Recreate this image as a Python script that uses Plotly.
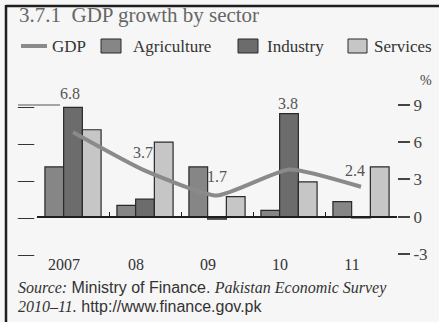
import plotly.graph_objects as go

# ---- data -------------------------------------------------------------
years = ["2007", "08", "09", "10", "11"]
gdp = [6.8, 3.7, 1.7, 3.8, 2.4]
agriculture = [4.0, 0.9, 4.0, 0.5, 1.2]
industry = [8.8, 1.4, -0.2, 8.3, -0.1]
services = [7.0, 6.0, 1.6, 2.8, 4.0]
y_ticks = [9, 6, 3, 0, -3]

# pixel offsets for the GDP value labels (dx, dy)
label_offsets = [(-3, 39), (-2, 18), (0, 19), (-1, 66), (-6, 16)]

# ---- geometry ---------------------------------------------------------
W, H = 439, 322
L, R, T, B = 37, 42, 95, 67
PW, PH = W - L - R, H - T - B
Y_RANGE = [-3.1, 9.8]


def px_x(px):
    return (px - L) / PW


def px_y(py):
    return (H - B - py) / PH


SERIF = "Liberation Serif, Times New Roman, serif"
SANS = "Liberation Sans, Arial, sans-serif"
BG = "#f6f6f6"
EDGE = "#2a2a2a"
C_GDP = "#8a8a8a"
C_AGR = "#868686"
C_IND = "#6c6c6c"
C_SRV = "#c6c6c6"

fig = go.Figure()

fig.add_trace(go.Scatter(
    x=years, y=gdp, name="GDP", mode="lines", yaxis="y2",
    line=dict(color=C_GDP, width=4, shape="spline", smoothing=0.5),
))
fig.add_trace(go.Bar(x=years, y=agriculture, name="Agriculture",
                     marker=dict(color=C_AGR, line=dict(color=EDGE, width=1.2))))
fig.add_trace(go.Bar(x=years, y=industry, name="Industry",
                     marker=dict(color=C_IND, line=dict(color=EDGE, width=1.2))))
fig.add_trace(go.Bar(x=years, y=services, name="Services",
                     marker=dict(color=C_SRV, line=dict(color=EDGE, width=1.2))))

annotations = []
for i, (v, (dx, dy)) in enumerate(zip(gdp, label_offsets)):
    annotations.append(dict(
        x=i, y=v, xref="x", yref="y2", text=f"{v:.1f}", showarrow=False,
        xshift=dx, yshift=dy, font=dict(family=SERIF, size=16, color="#555"),
    ))


def paper_text(px, py, text, size, color, family=SERIF, anchor="left"):
    return dict(x=px_x(px), y=px_y(py), xref="paper", yref="paper",
                xanchor=anchor, yanchor="middle", showarrow=False, text=text,
                font=dict(family=family, size=size, color=color))


annotations += [
    paper_text(17, 15, "3.7.1  GDP growth by sector", 21, "#666"),
    paper_text(426, 80, "%", 14, "#444", anchor="center"),
    paper_text(16, 288,
               f'<i style="font-family:{SERIF}">Source:</i> Ministry of Finance. '
               f'<i style="font-family:{SERIF}">Pakistan Economic Survey</i>',
               16, "#333", family=SANS),
    paper_text(16, 306,
               f'<i style="font-family:{SERIF}">2010–11.</i> http://www.finance.gov.pk',
               16, "#333", family=SANS),
]

# legend row: key line / swatches with their labels
LEG_Y = 46
legend_keys = [
    ("GDP", None, 21, 47, 50),
    ("Agriculture", C_AGR, 101, 121, 131),
    ("Industry", C_IND, 238, 258, 265),
    ("Services", C_SRV, 348, 367, 372),
]

shapes = [
    # frame edges (top and left)
    dict(type="line", xref="paper", yref="paper", x0=px_x(6), x1=px_x(W),
         y0=px_y(6), y1=px_y(6), line=dict(color="#1e1e1e", width=2.5)),
    dict(type="line", xref="paper", yref="paper", x0=px_x(6), x1=px_x(6),
         y0=px_y(5), y1=px_y(H), line=dict(color="#1e1e1e", width=2.5)),
    # leader line at the top gridline level
    dict(type="line", xref="paper", yref="y", x0=px_x(18), x1=px_x(60),
         y0=9, y1=9, line=dict(color="#888", width=1.5)),
]

for name, fill, x0, x1, tx in legend_keys:
    if fill is None:
        shapes.append(dict(type="line", xref="paper", yref="paper",
                           x0=px_x(x0), x1=px_x(x1), y0=px_y(LEG_Y), y1=px_y(LEG_Y),
                           line=dict(color=C_GDP, width=4)))
    else:
        shapes.append(dict(type="rect", xref="paper", yref="paper",
                           x0=px_x(x0), x1=px_x(x1),
                           y0=px_y(LEG_Y - 7), y1=px_y(LEG_Y + 7),
                           fillcolor=fill, line=dict(color=EDGE, width=1)))
    annotations.append(paper_text(tx, LEG_Y, name, 17, "#333"))

fig.update_layout(
    width=W, height=H,
    margin=dict(l=L, r=R, t=T, b=B, pad=0),
    paper_bgcolor=BG, plot_bgcolor=BG,
    barmode="group", bargap=0.22, bargroupgap=0,
    showlegend=False,
    xaxis=dict(
        type="category", range=[-0.5, 4.5], anchor="free",
        position=(0 - Y_RANGE[0]) / (Y_RANGE[1] - Y_RANGE[0]),
        showline=True, linecolor="#1e1e1e", linewidth=2,
        ticks="inside", tickson="boundaries", ticklen=4, tickcolor="#1e1e1e",
        ticklabelstandoff=33, ticklabelshift=-9,
        showgrid=False, zeroline=False,
        tickfont=dict(family=SERIF, size=16, color="#333"),
    ),
    yaxis=dict(
        range=Y_RANGE, tickvals=y_ticks, ticktext=["—"] * len(y_ticks),
        ticks="", showgrid=False, zeroline=False, showline=False,
        ticklabelstandoff=2,
        tickfont=dict(family=SERIF, size=16, color="#333"),
    ),
    yaxis2=dict(
        range=Y_RANGE, overlaying="y", side="right", tickvals=y_ticks,
        ticktext=[str(t) if t >= 0 else "-" + str(-t) for t in y_ticks],
        ticks="outside", ticklen=12, tickwidth=1.5, tickcolor="#444",
        showgrid=False, zeroline=False, showline=False,
        tickfont=dict(family=SERIF, size=17, color="#444"),
    ),
    annotations=annotations,
    shapes=shapes,
)

fig.write_html("out.html")
